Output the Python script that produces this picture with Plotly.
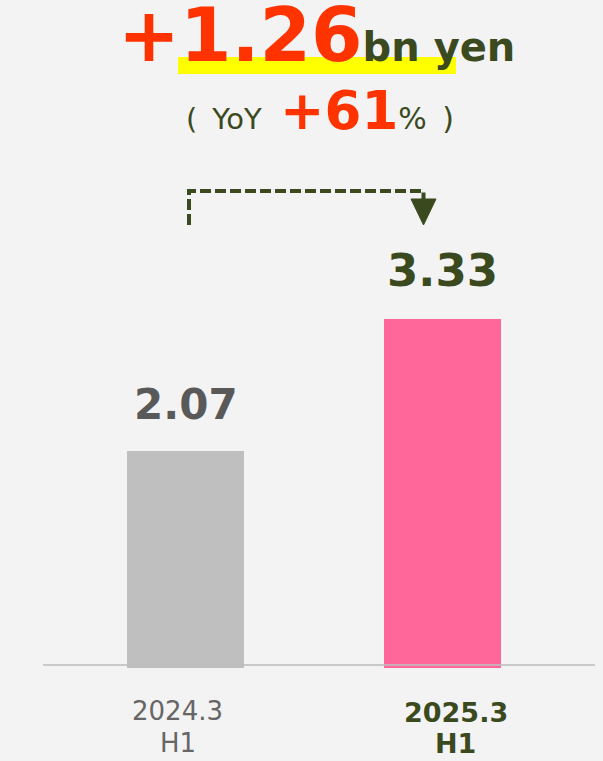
import plotly.graph_objects as go

# ---- data ----
categories = ["2024.3<br>H1", "2025.3<br>H1"]
values = [2.07, 3.33]
bar_colors = ["#BFBFBF", "#FF6699"]
value_labels = ["2.07", "3.33"]
diff_label = "+1.26"
unit_label = "bn yen"
yoy_label = "+61"

W, H = 603, 761
ML, MR, MT, MB = 43, 8, 0, 93
PW, PH = W - ML - MR, H - MT - MB
OLIVE = "#3B4A1E"
RED = "#FF3300"
FONT = "DejaVu Sans"


def px(x):
    return (x - ML) / PW


def py(y):
    return (MT + PH - y) / PH


fig = go.Figure()
fig.add_trace(go.Bar(
    x=categories, y=values, marker=dict(color=bar_colors, line=dict(width=0)),
    width=0.455, hoverinfo="skip", showlegend=False,
))

annotations = []
# value labels
val_styles = [dict(color="#595959", size=42), dict(color=OLIVE, size=45)]
for i, (c, v, t) in enumerate(zip(categories, values, value_labels)):
    annotations.append(dict(
        x=c, y=v, xref="x", yref="y", text="<b>%s</b>" % t, showarrow=False,
        yanchor="bottom", xanchor="center", yshift=20,
        font=dict(family=FONT, size=val_styles[i]["size"], color=val_styles[i]["color"]),
    ))

# category labels (one annotation per line, tighter line spacing)
cat_styles = [
    dict(color="#666666", size=26, bold=False, xshift=-8, tops=[694, 726]),
    dict(color=OLIVE, size=27, bold=True, xshift=13, tops=[695, 726]),
]
for c, s in zip(categories, cat_styles):
    for line, top in zip(c.split("<br>"), s["tops"]):
        txt = "<b>%s</b>" % line if s["bold"] else line
        annotations.append(dict(
            x=c, y=py(top), xref="x", yref="paper", text=txt, showarrow=False,
            yanchor="top", xanchor="center", xshift=s["xshift"],
            font=dict(family=FONT, size=s["size"], color=s["color"]),
        ))

# headline
annotations.append(dict(
    x=px(316), y=py(80), xref="paper", yref="paper", showarrow=False,
    xanchor="center", yanchor="bottom",
    text=("<b><span style='font-size:74px;color:%s'>%s</span>"
          "<span style='font-size:40px;color:%s'>%s</span></b>") % (RED, diff_label, OLIVE, unit_label),
    font=dict(family=FONT, size=40, color=OLIVE),
))
annotations.append(dict(
    x=px(320), y=py(143), xref="paper", yref="paper", showarrow=False,
    xanchor="center", yanchor="bottom",
    text=("<span style='font-size:29px;color:%s'>(\u00a0\u2009YoY\u00a0\u00a0</span>"
          "<b><span style='font-size:53px;color:%s'>%s</span></b>"
          "<span style='font-size:30px;color:%s'>%%\u00a0\u2009)</span>") % (OLIVE, RED, yoy_label, OLIVE),
    font=dict(family=FONT, size=29, color=OLIVE),
))

shapes = []
# yellow highlight
shapes.append(dict(type="rect", xref="paper", yref="paper",
                   x0=px(178), x1=px(456), y0=py(74), y1=py(57),
                   fillcolor="#FFFF00", line=dict(width=0), layer="below"))
# axis line
shapes.append(dict(type="line", xref="paper", yref="paper",
                   x0=0, x1=1, y0=py(665), y1=py(665),
                   line=dict(color="rgba(190,190,190,0.8)", width=2), layer="above"))
# dashed connector
path = "M %f,%f L %f,%f L %f,%f L %f,%f" % (
    px(189), py(225), px(189), py(191), px(423.5), py(191), px(423.5), py(205))
shapes.append(dict(type="path", xref="paper", yref="paper", path=path,
                   line=dict(color=OLIVE, width=4, dash="11px,4px")))
tri = "M %f,%f L %f,%f L %f,%f Z" % (px(411), py(199), px(436), py(199), px(423.5), py(225))
shapes.append(dict(type="path", xref="paper", yref="paper", path=tri,
                   fillcolor=OLIVE, line=dict(color=OLIVE, width=1)))

fig.update_layout(
    width=W, height=H, margin=dict(l=ML, r=MR, t=MT, b=MB),
    paper_bgcolor="#F3F3F3", plot_bgcolor="#F3F3F3",
    xaxis=dict(type="category", range=[-0.5545, 1.5934], showticklabels=False,
               showgrid=False, zeroline=False, showline=False, fixedrange=True),
    yaxis=dict(range=[0, PH / 104.9], showticklabels=False, showgrid=False,
               zeroline=False, showline=False, fixedrange=True),
    annotations=annotations, shapes=shapes, bargap=0,
    font=dict(family=FONT),
)

fig.write_html(
    "out.html",
    config={"displayModeBar": False},
    post_script="document.body.style.margin='0';document.body.style.overflow='hidden';",
)
